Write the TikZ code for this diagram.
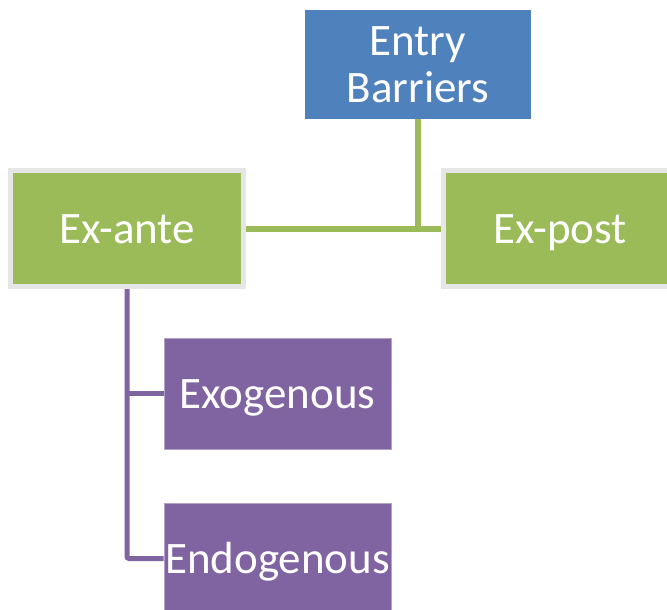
\documentclass[tikz,border=0pt]{standalone}
\usepackage{fontspec}
\setmainfont{Carlito}
\usetikzlibrary{backgrounds}
\definecolor{barblue}{HTML}{4F81BD}
\definecolor{kindgreen}{HTML}{9BBB59}
\definecolor{formpurple}{HTML}{8064A2}
\definecolor{rimgray}{HTML}{E6E6E6}
\begin{document}
\begin{tikzpicture}[x=1pt,y=-1pt,
  box/.style={inner sep=0pt, text=white, align=center, font=\fontsize{45}{47}\selectfont},
  topbox/.style={box, fill=barblue, minimum width=226pt, minimum height=109pt},
  onebox/.style={box, text height=29pt, text depth=0pt},
  kindbox/.style={onebox, fill=kindgreen, draw=rimgray, line width=5pt, minimum width=233pt, minimum height=116pt},
  formbox/.style={onebox, fill=formpurple, draw=formpurple!60!white, line width=0.8pt, minimum width=227pt, minimum height=111pt},
  kindline/.style={draw=kindgreen, line width=6pt},
  formline/.style={draw=formpurple, line width=5pt, rounded corners=2pt}]
% Set the page to the picture size
\useasboundingbox (0,0) rectangle (667,610);

% Draw the boxes and insert the names
\node[topbox] (entry) at (418,64.5) {Entry\\Barriers};
\node[kindbox] (exante) at (127,228.5) {Ex-ante};
\node[kindbox] (expost) at (560,228.5) {Ex-post};
\node[formbox] (exo) at (277.5,393.5) {Exogenous};
\node[formbox] (endo) at (277.5,558.5) {Endogenous};

% Connect them behind the boxes
\begin{scope}[on background layer]
\coordinate (join) at (entry.south |- exante.east);
\draw[kindline] (exante.east) -- (expost.west);
\draw[kindline] (entry.south) -- (join);
\draw[formline] (exante.south) |- (endo.west);
\draw[formline] (exante.south |- exo.west) -- (exo.west);
\end{scope}
\end{tikzpicture}
\end{document}
